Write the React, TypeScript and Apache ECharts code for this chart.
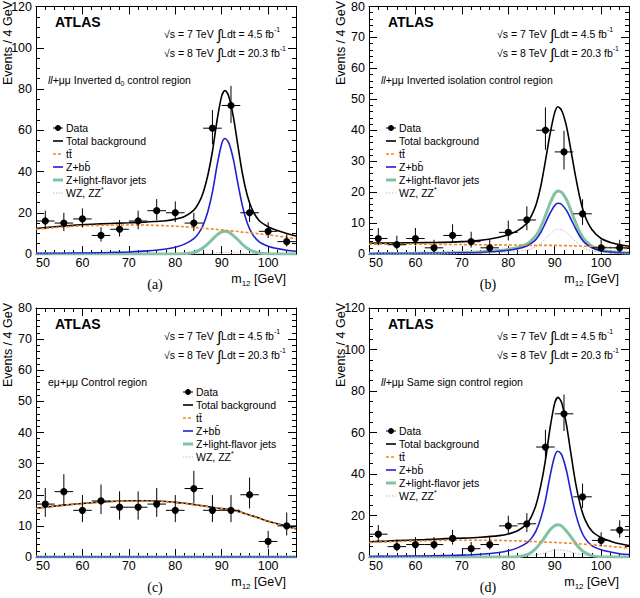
import React, { useEffect, useRef } from 'react';
import * as echarts from 'echarts';

// ---------- data ----------
const binCenters = [52, 56, 60, 64, 68, 72, 76, 80, 84, 88, 92, 96, 100, 104];
const binHalfWidth = 2;
const curveX = [50, 54, 58, 62, 66, 70, 74, 78, 80, 82, 84, 85, 86, 87, 88, 89, 90, 90.7, 91.5, 92.5, 93.5, 94.5, 95.5, 96.5, 98, 100, 102, 104, 106];
const xTicks = [50, 60, 70, 80, 90, 100];

// (a) Inverted d0
const dataA = [16, 15, 17, 9, 12, 16, 21, 20, 15, 61, 72, 20, 11, 6];
const errUpA = [5, 5, 5.1, 4, 4.5, 5, 5.6, 5.5, 5, 8.8, 9.5, 5.5, 4.4, 3.6];
const errDnA = [4, 3.9, 4.1, 3, 3.5, 4, 4.6, 4.5, 3.9, 7.8, 8.5, 4.5, 3.3, 2.4];
const totalA = [12.35, 13.2, 13.9, 14.4, 14.8, 15.15, 15.55, 16.15, 16.9, 18.2, 21.3, 24.5, 29.75, 38.05, 49.7, 64.85, 76.65, 79.3, 76.65, 66.65, 52.3, 38.55, 28.45, 21.9, 16.36, 13.19, 11.35, 9.95, 8.75];
const ttbarA = [12.0, 12.8, 13.4, 13.8, 14.0, 14.1, 14.0, 13.7, 13.5, 13.2, 12.9, 12.7, 12.5, 12.3, 12.1, 11.9, 11.7, 11.5, 11.3, 11.1, 10.9, 10.6, 10.4, 10.2, 9.8, 9.3, 8.7, 8.1, 7.4];
const zbbA = [0.3, 0.35, 0.45, 0.55, 0.75, 1.0, 1.5, 2.4, 3.3, 4.8, 7.5, 10, 14, 20.5, 30, 43, 53.5, 56, 54, 46, 34, 23, 15, 10, 6, 3.8, 2.6, 1.8, 1.3];
const zlfA = [0, 0, 0, 0, 0, 0, 0, 0, 0.03, 0.12, 0.76, 1.6, 3.0, 4.9, 7.1, 9.3, 10.7, 11, 10.6, 8.9, 6.9, 4.6, 2.8, 1.5, 0.46, 0.04, 0, 0, 0];
const dibosonA = [0.05, 0.05, 0.05, 0.05, 0.05, 0.05, 0.05, 0.05, 0.05, 0.1, 0.15, 0.2, 0.25, 0.35, 0.5, 0.65, 0.75, 0.8, 0.75, 0.65, 0.5, 0.35, 0.25, 0.2, 0.1, 0.05, 0.05, 0.05, 0.05];

// (b) Inverted isolation
const dataB = [5, 3, 5, 2, 6, 4, 2, 7, 11, 40, 33, 13, 2, 2];
const errUpB = [3.4, 2.9, 3.4, 2.6, 3.6, 3.2, 2.6, 3.8, 4.4, 7.4, 6.8, 4.7, 2.6, 2.6];
const errDnB = [2.2, 1.6, 2.2, 1.3, 2.4, 1.9, 1.3, 2.6, 3.3, 6.3, 5.7, 3.6, 1.3, 1.3];
const totalB = [3.47, 3.53, 3.61, 3.69, 3.76, 4.0, 4.4, 5.4, 6.2, 7.55, 9.95, 12.4, 16.0, 21.9, 30.1, 38.8, 45.7, 47.6, 46.4, 41.5, 33.45, 25.0, 17.6, 12.35, 7.9, 5.0, 3.75, 3.0, 2.5];
const ttbarB = [3.2, 3.2, 3.2, 3.15, 3.1, 3.05, 3.0, 2.95, 2.9, 2.9, 2.85, 2.8, 2.8, 2.8, 2.8, 2.8, 2.8, 2.8, 2.7, 2.7, 2.65, 2.6, 2.6, 2.5, 2.4, 2.3, 2.1, 1.9, 1.7];
const zbbB = [0.1, 0.12, 0.15, 0.2, 0.25, 0.35, 0.5, 0.9, 1.2, 1.7, 2.6, 3.5, 4.8, 7, 10, 13.2, 15.7, 16.4, 16, 14.2, 11.3, 8.2, 5.5, 3.6, 2, 1.0, 0.6, 0.4, 0.3];
const zlfB = [0.12, 0.15, 0.19, 0.25, 0.3, 0.45, 0.65, 1.1, 1.5, 2.1, 3.2, 4.4, 6.0, 8.7, 12.4, 16.4, 19.5, 20.4, 19.9, 17.7, 14, 10.2, 6.8, 4.5, 2.5, 1.2, 0.75, 0.5, 0.35];
const dibosonB = [0.05, 0.06, 0.07, 0.09, 0.11, 0.15, 0.25, 0.45, 0.6, 0.85, 1.3, 1.7, 2.4, 3.4, 4.9, 6.4, 7.7, 8.0, 7.8, 6.9, 5.5, 4.0, 2.7, 1.75, 1.0, 0.5, 0.3, 0.2, 0.15];

// (c) e-mu control region
const dataC = [17, 21, 15, 18, 16, 16, 17, 15, 22, 15, 15, 20, 5, 10];
const errUpC = [5.2, 5.6, 4.9, 5.3, 5.1, 5.1, 5.2, 4.9, 5.7, 4.9, 4.9, 5.5, 3.4, 4.3];
const errDnC = [4.1, 4.6, 3.8, 4.2, 4, 4, 4.1, 3.8, 4.7, 3.8, 3.8, 4.4, 2.2, 3.1];
const totalC = [15.65, 16.35, 16.95, 17.45, 17.85, 18.05, 18.05, 17.85, 17.55, 17.25, 16.85, 16.65, 16.45, 16.25, 15.95, 15.75, 15.55, 15.45, 15.35, 15.05, 14.65, 14.25, 13.75, 13.25, 12.55, 11.45, 10.65, 9.85, 9.05];
const ttbarC = [15.6, 16.3, 16.9, 17.4, 17.8, 18.0, 18.0, 17.8, 17.5, 17.2, 16.8, 16.6, 16.4, 16.2, 15.9, 15.7, 15.5, 15.4, 15.3, 15.0, 14.6, 14.2, 13.7, 13.2, 12.5, 11.4, 10.6, 9.8, 9.0];
const zbbC = [0, 0, 0, 0, 0, 0, 0, 0, 0, 0, 0, 0, 0, 0, 0, 0, 0, 0, 0, 0, 0, 0, 0, 0, 0, 0, 0, 0, 0];
const zlfC = [0, 0, 0, 0, 0, 0, 0, 0, 0, 0, 0, 0, 0, 0, 0, 0, 0, 0, 0, 0, 0, 0, 0, 0, 0, 0, 0, 0, 0];
const dibosonC = [0, 0, 0, 0, 0, 0, 0, 0, 0, 0, 0, 0, 0, 0, 0, 0, 0, 0, 0, 0, 0, 0, 0, 0, 0, 0, 0, 0, 0];

// (d) Same sign
const dataD = [11, 5, 6, 6, 9, 4, 6, 15, 16, 53, 69, 29, 8, 13];
const errUpD = [4.4, 3.4, 3.6, 3.6, 4.1, 3.2, 3.6, 4.9, 5.1, 8.3, 9.3, 6.4, 3.9, 4.7];
const errDnD = [3.3, 2.2, 2.4, 2.4, 3, 1.9, 2.4, 3.8, 4, 7.3, 8.3, 5.4, 2.8, 3.6];
const totalD = [7.32, 7.67, 8.07, 8.36, 8.75, 9.08, 9.54, 10.3, 11.09, 12.62, 15.97, 19.61, 25.35, 34.4, 46.6, 62.1, 74.15, 76.95, 74.35, 64.1, 49.7, 35.6, 25.1, 18.15, 12.5, 9.28, 7.62, 6.38, 5.56];
const ttbarD = [7.0, 7.3, 7.6, 7.8, 8.0, 8.1, 8.1, 8.0, 7.9, 7.8, 7.6, 7.5, 7.4, 7.3, 7.2, 7.1, 7.0, 6.95, 6.85, 6.7, 6.6, 6.45, 6.3, 6.15, 5.9, 5.5, 5.1, 4.7, 4.3];
const zbbD = [0.27, 0.32, 0.41, 0.5, 0.68, 0.9, 1.35, 2.2, 3.0, 4.4, 6.8, 9.1, 12.7, 18.7, 27.3, 39.1, 48.7, 51, 49.2, 41.9, 31, 20.9, 13.7, 9.1, 5.5, 3.5, 2.4, 1.6, 1.2];
const zlfD = [0, 0, 0, 0, 0, 0, 0, 0, 0.04, 0.17, 1.07, 2.26, 4.2, 6.9, 10, 13.1, 15.1, 15.5, 14.9, 12.5, 9.7, 6.5, 3.9, 2.1, 0.65, 0.06, 0, 0, 0];
const dibosonD = [0.05, 0.05, 0.06, 0.06, 0.07, 0.08, 0.09, 0.1, 0.15, 0.25, 0.5, 0.75, 1.05, 1.5, 2.1, 2.8, 3.35, 3.5, 3.4, 3.0, 2.4, 1.75, 1.2, 0.8, 0.45, 0.22, 0.12, 0.08, 0.06];

const legendLabels = ['Data', 'Total background', 'tt\u0304', 'Z+bb\u0304', 'Z+light-flavor jets', 'WZ, ZZ'];

// ---------- styling ----------
const FONT = '"Liberation Sans", Arial, Helvetica, sans-serif';
const SERIF = '"Liberation Serif", "Times New Roman", serif';
const C_TOTAL = '#000000';
const C_TT = '#f2862a';
const C_ZBB = '#2020d0';
const C_ZLF = '#7fc3a3';
const C_DIB = '#b8b8c4';

type Panel = {
  left: number; top: number; width: number; height: number;
  yMax: number; yInterval: number; yMinor: number;
  data: number[]; errUp: number[]; errDn: number[];
  total: number[]; ttbar: number[]; zbb: number[]; zlf: number[]; diboson: number[];
  region: string; letter: string; legX: number; legY: number;
};

const panels: Panel[] = [
  { left: 36, top: 6, width: 260, height: 248, yMax: 120, yInterval: 20, yMinor: 4,
    data: dataA, errUp: errUpA, errDn: errDnA, total: totalA, ttbar: ttbarA, zbb: zbbA, zlf: zlfA, diboson: dibosonA,
    region: '{it|ll}{n|+\u03bc\u03bc Inverted d}{sub|0}{n| control region}', letter: '(a)', legX: 58, legY: 128 },
  { left: 369, top: 6, width: 260, height: 248, yMax: 80, yInterval: 10, yMinor: 5,
    data: dataB, errUp: errUpB, errDn: errDnB, total: totalB, ttbar: ttbarB, zbb: zbbB, zlf: zlfB, diboson: dibosonB,
    region: '{it|ll}{n|+\u03bc\u03bc Inverted isolation control region}', letter: '(b)', legX: 391, legY: 128 },
  { left: 36, top: 308, width: 260, height: 249, yMax: 80, yInterval: 10, yMinor: 5,
    data: dataC, errUp: errUpC, errDn: errDnC, total: totalC, ttbar: ttbarC, zbb: zbbC, zlf: zlfC, diboson: dibosonC,
    region: '{n|e\u03bc+\u03bc\u03bc Control region}', letter: '(c)', legX: 188, legY: 392 },
  { left: 369, top: 308, width: 260, height: 249, yMax: 120, yInterval: 20, yMinor: 4,
    data: dataD, errUp: errUpD, errDn: errDnD, total: totalD, ttbar: ttbarD, zbb: zbbD, zlf: zlfD, diboson: dibosonD,
    region: '{it|ll}{n|+\u03bc\u03bc Same sign control region}', letter: '(d)', legX: 391, legY: 431 },
];

function buildOption() {
  const grid: any[] = [];
  const xAxis: any[] = [];
  const yAxis: any[] = [];
  const series: any[] = [];
  const graphic: any[] = [];

  const black = { color: '#000', width: 1 };

  panels.forEach((p, pi) => {
    const rect = { left: p.left, top: p.top, width: p.width, height: p.height, containLabel: false };
    grid.push({ ...rect }, { ...rect });
    const gMain = pi * 2;
    const gMinor = pi * 2 + 1;

    const xBase = { type: 'value', min: 50, max: 106, splitLine: { show: false } };
    xAxis.push(
      { ...xBase, gridIndex: gMain, position: 'bottom', interval: 10,
        axisLine: { show: true, onZero: false, lineStyle: black },
        axisTick: { show: true, inside: true, length: 8, lineStyle: black },
        axisLabel: { show: true, color: '#000', fontSize: 12.5, fontFamily: FONT, margin: 2, alignMinLabel: 'left',
          formatter: (v: number) => (xTicks.indexOf(v) >= 0 ? String(v) : '') } },
      { ...xBase, gridIndex: gMain, position: 'top', interval: 10,
        axisLine: { show: true, onZero: false, lineStyle: black },
        axisTick: { show: true, inside: true, length: 8, lineStyle: black },
        axisLabel: { show: false } },
      { ...xBase, gridIndex: gMinor, position: 'bottom', interval: 2,
        axisLine: { show: false, onZero: false },
        axisTick: { show: true, inside: true, length: 4, lineStyle: black },
        axisLabel: { show: false } },
      { ...xBase, gridIndex: gMinor, position: 'top', interval: 2,
        axisLine: { show: false, onZero: false },
        axisTick: { show: true, inside: true, length: 4, lineStyle: black },
        axisLabel: { show: false } },
    );
    const yBase = { type: 'value', min: 0, max: p.yMax, interval: p.yInterval, splitLine: { show: false }, minorSplitLine: { show: false } };
    yAxis.push(
      { ...yBase, gridIndex: gMain, position: 'left',
        axisLine: { show: true, onZero: false, lineStyle: black },
        axisTick: { show: true, inside: true, length: 8, lineStyle: black },
        minorTick: { show: true, splitNumber: p.yMinor, length: 4, lineStyle: black },
        axisLabel: { show: true, color: '#000', fontSize: 12.5, fontFamily: FONT, margin: 4 } },
      { ...yBase, gridIndex: gMain, position: 'right',
        axisLine: { show: true, onZero: false, lineStyle: black },
        axisTick: { show: true, inside: true, length: 8, lineStyle: black },
        minorTick: { show: true, splitNumber: p.yMinor, length: 4, lineStyle: black },
        axisLabel: { show: false } },
      { ...yBase, gridIndex: gMinor, show: false },
    );

    const xi = pi * 4;
    const yi = pi * 3;
    const curve = (arr: number[]) => curveX.map((x, i) => [x, arr[i]]);
    const lineSeries = (name: string, arr: number[], lineStyle: any, z: number) => ({
      type: 'line', name, xAxisIndex: xi, yAxisIndex: yi, data: curve(arr), showSymbol: false,
      symbol: 'none', smooth: 0.3, lineStyle, z, silent: true,
    });
    series.push(
      lineSeries('Total background', p.total, { color: C_TOTAL, width: 1.6 }, 2),
      lineSeries('Z+light-flavor jets', p.zlf, { color: C_ZLF, width: 3 }, 3),
      lineSeries('Z+bb', p.zbb, { color: C_ZBB, width: 1.6 }, 4),
      lineSeries('WZ, ZZ*', p.diboson, { color: C_DIB, width: 1, type: [1.5, 1.5] }, 4),
      lineSeries('ttbar', p.ttbar, { color: C_TT, width: 1.6, type: [3, 2] }, 5),
      {
        type: 'custom', name: 'Data', xAxisIndex: xi, yAxisIndex: yi, z: 10, silent: true,
        data: binCenters.map((x, i) => [x, p.data[i], p.errDn[i], p.errUp[i]]),
        encode: { x: 0, y: 1 },
        renderItem: (params: any, api: any) => {
          const x = api.value(0), y = api.value(1), dn = api.value(2), up = api.value(3);
          const c = api.coord([x, y]);
          const l = api.coord([x - binHalfWidth, y]);
          const r = api.coord([x + binHalfWidth, y]);
          const t = api.coord([x, y + up]);
          const b = api.coord([x, y - dn]);
          return {
            type: 'group',
            children: [
              { type: 'line', shape: { x1: l[0], y1: c[1], x2: r[0], y2: c[1] }, style: { stroke: '#000', lineWidth: 1 } },
              { type: 'line', shape: { x1: c[0], y1: t[1], x2: c[0], y2: b[1] }, style: { stroke: '#000', lineWidth: 1 } },
              { type: 'circle', shape: { cx: c[0], cy: c[1], r: 3.6 }, style: { fill: '#000' } },
            ],
          };
        },
      },
    );

    // ---------- texts ----------
    const L = p.left, T = p.top, R = p.left + p.width, B = p.top + p.height;
    graphic.push(
      { type: 'text', x: L - 28, y: T - 5, rotation: Math.PI / 2,
        style: { text: 'Events / 4 GeV', fontSize: 12.5, fontFamily: FONT, fill: '#000', align: 'right', verticalAlign: 'middle' } },
      { type: 'text', x: R - 10, y: B + 25,
        style: { text: '{n|m}{sub|12}{n| [GeV]}', align: 'right', verticalAlign: 'middle',
          rich: { n: { fontSize: 12.5, fontFamily: FONT, fill: '#000', lineHeight: 16 },
                  sub: { fontSize: 8, fontFamily: FONT, fill: '#000', lineHeight: 9, verticalAlign: 'bottom' } } } },
      { type: 'text', x: L + 119, y: B + 30,
        style: { text: p.letter, fontSize: 14, fontFamily: SERIF, fill: '#000', align: 'center', verticalAlign: 'middle' } },
      { type: 'text', x: L + 19, y: T + 16,
        style: { text: 'ATLAS', fontSize: 14, fontWeight: 'bold', fontFamily: FONT, fill: '#000', align: 'left', verticalAlign: 'middle' } },
    );
    const energy = [['7', '4.5'], ['8', '20.3']];
    energy.forEach((e, k) => {
      const yy = T + 28 + k * 19;
      graphic.push(
        { type: 'text', x: L + 128, y: yy,
          style: { text: '\u221as = ' + e[0] + ' TeV', fontSize: 10.5, fontFamily: FONT, fill: '#000', align: 'left', verticalAlign: 'middle' } },
        { type: 'text', x: L + 181, y: yy,
          style: { text: '{i|\u222b}{n|Ldt = ' + e[1] + ' fb}{s|-1}', align: 'left', verticalAlign: 'middle',
            rich: { i: { fontSize: 15, fontFamily: FONT, fill: '#000', lineHeight: 16 },
                    n: { fontSize: 10.5, fontFamily: FONT, fill: '#000', lineHeight: 16 },
                    s: { fontSize: 7, fontFamily: FONT, fill: '#000', lineHeight: 9, verticalAlign: 'top' } } } },
      );
    });
    graphic.push({ type: 'text', x: L + 12, y: T + 74,
      style: { text: p.region, align: 'left', verticalAlign: 'middle',
        rich: { n: { fontSize: 10.5, fontFamily: FONT, fill: '#000', lineHeight: 14 },
                it: { fontSize: 10.5, fontFamily: FONT, fontStyle: 'italic', fill: '#000', lineHeight: 14 },
                sub: { fontSize: 7, fontFamily: FONT, fill: '#000', lineHeight: 8, verticalAlign: 'bottom' } } } });

    // ---------- legend ----------
    const lx = p.legX, ly = p.legY, dy = 13;
    const sample = (k: number, stroke: string, lw: number, dash?: number[]) => ({
      type: 'line', shape: { x1: lx - 5, y1: ly + k * dy, x2: lx + 5, y2: ly + k * dy },
      style: { stroke, lineWidth: lw, lineDash: dash || null },
    });
    graphic.push(
      { type: 'line', shape: { x1: lx - 5, y1: ly, x2: lx + 5, y2: ly }, style: { stroke: '#000', lineWidth: 1 } },
      { type: 'line', shape: { x1: lx, y1: ly - 3, x2: lx, y2: ly + 3 }, style: { stroke: '#000', lineWidth: 1 } },
      { type: 'circle', shape: { cx: lx, cy: ly, r: 3 }, style: { fill: '#000' } },
      sample(1, C_TOTAL, 1.6),
      sample(2, C_TT, 1.6, [3, 2]),
      sample(3, C_ZBB, 1.6),
      sample(4, C_ZLF, 3),
      sample(5, C_DIB, 1, [1.5, 1.5]),
    );
    legendLabels.forEach((lab, k) => {
      const txt = k === 5 ? '{n|' + lab + '}{s|*}' : '{n|' + lab + '}';
      graphic.push({ type: 'text', x: lx + 8, y: ly + k * dy,
        style: { text: txt, align: 'left', verticalAlign: 'middle',
          rich: { n: { fontSize: 10.5, fontFamily: FONT, fill: '#000', lineHeight: 14 },
                  s: { fontSize: 7, fontFamily: FONT, fill: '#000', lineHeight: 8, verticalAlign: 'top' } } } });
    });
  });

  return {
    animation: false,
    backgroundColor: '#ffffff',
    grid, xAxis, yAxis, series, graphic,
  };
}

export default function App() {
  const ref = useRef<HTMLDivElement>(null);
  useEffect(() => {
    document.body.style.margin = '0';
    if (!ref.current) return;
    const chart = echarts.init(ref.current, undefined, { renderer: 'svg' });
    chart.setOption(buildOption() as any);
    return () => chart.dispose();
  }, []);
  return <div ref={ref} style={{ position: 'fixed', left: 0, top: 0, width: 640, height: 598, background: '#fff' }} />;
}
